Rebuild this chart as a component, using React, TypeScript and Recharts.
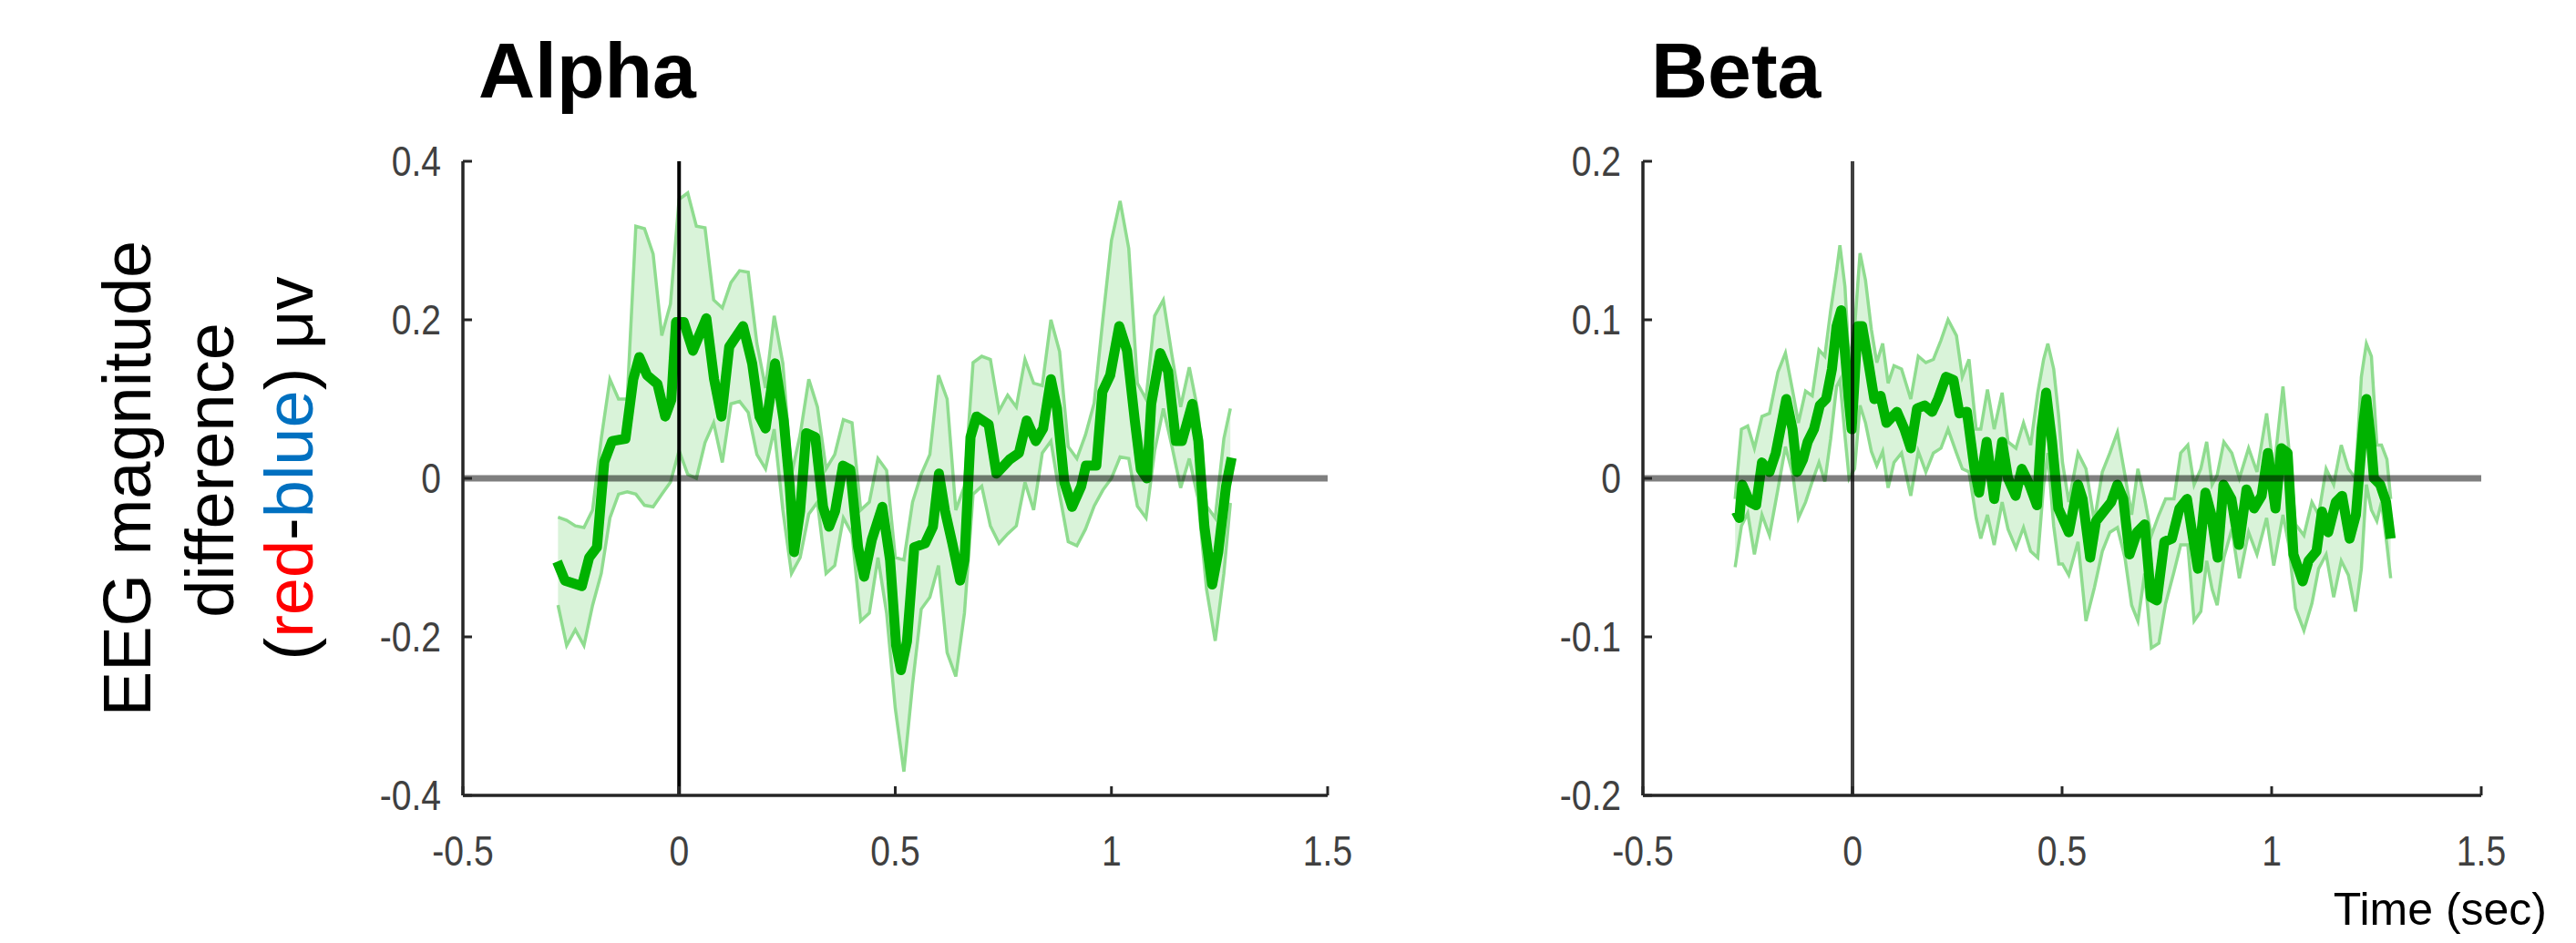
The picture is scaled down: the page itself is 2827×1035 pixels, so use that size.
import React from 'react';
import { ComposedChart, Area, Line, XAxis, YAxis, ReferenceLine } from 'recharts';

// tick values
const X_TICKS = [-0.5, 0, 0.5, 1, 1.5];
const ALPHA_Y_TICKS = [-0.4, -0.2, 0, 0.2, 0.4];
const BETA_Y_TICKS = [-0.2, -0.1, 0, 0.1, 0.2];

// Alpha: mean difference [time, value]
const alphaMean: [number, number][] = [
  [-0.282, -0.105], [-0.264, -0.129], [-0.225, -0.136], [-0.208, -0.1], [-0.19, -0.087],
  [-0.173, 0.021], [-0.155, 0.047], [-0.124, 0.05], [-0.106, 0.125], [-0.092, 0.153],
  [-0.074, 0.13], [-0.05, 0.119], [-0.032, 0.078], [-0.018, 0.099], [-0.007, 0.197],
  [0.011, 0.197], [0.032, 0.161], [0.063, 0.202], [0.081, 0.125], [0.098, 0.078],
  [0.116, 0.166], [0.148, 0.192], [0.169, 0.145], [0.186, 0.078], [0.2, 0.063],
  [0.222, 0.145], [0.242, 0.073], [0.256, -0.01], [0.266, -0.093], [0.28, -0.041],
  [0.294, 0.057], [0.315, 0.052], [0.333, -0.036], [0.347, -0.061], [0.361, -0.041],
  [0.379, 0.016], [0.396, 0.011], [0.414, -0.087], [0.428, -0.124], [0.446, -0.077],
  [0.47, -0.036], [0.488, -0.103], [0.502, -0.211], [0.513, -0.242], [0.527, -0.206],
  [0.544, -0.087], [0.569, -0.082], [0.587, -0.061], [0.601, 0.006], [0.615, -0.041],
  [0.632, -0.082], [0.65, -0.129], [0.66, -0.103], [0.674, 0.052], [0.688, 0.078],
  [0.716, 0.068], [0.734, 0.006], [0.765, 0.024], [0.786, 0.032], [0.804, 0.073],
  [0.825, 0.047], [0.842, 0.063], [0.86, 0.125], [0.874, 0.088], [0.891, -0.005],
  [0.909, -0.036], [0.93, -0.01], [0.941, 0.016], [0.965, 0.016], [0.979, 0.109],
  [0.997, 0.13], [1.018, 0.192], [1.036, 0.161], [1.054, 0.073], [1.068, 0.011],
  [1.082, 0.0], [1.092, 0.094], [1.113, 0.158], [1.131, 0.135], [1.149, 0.047],
  [1.163, 0.047], [1.187, 0.094], [1.201, 0.047], [1.215, -0.061], [1.233, -0.134],
  [1.247, -0.093], [1.265, -0.01], [1.278, 0.026],
];

// Alpha: error band [time, low, high]
const alphaBand: [number, number, number][] = [
  [-0.28, -0.16, -0.049], [-0.26, -0.211, -0.053], [-0.24, -0.191, -0.06], [-0.22, -0.211, -0.062],
  [-0.2, -0.16, -0.04], [-0.18, -0.12, 0.05], [-0.16, -0.05, 0.125], [-0.14, -0.02, 0.1],
  [-0.12, -0.017, 0.1], [-0.1, -0.02, 0.318], [-0.08, -0.034, 0.315], [-0.06, -0.036, 0.283],
  [-0.04, -0.02, 0.18], [-0.02, -0.005, 0.22], [0.0, 0.035, 0.352], [0.02, 0.005, 0.36],
  [0.04, 0.0, 0.318], [0.06, 0.045, 0.316], [0.08, 0.07, 0.225], [0.1, 0.02, 0.215],
  [0.12, 0.094, 0.247], [0.14, 0.097, 0.262], [0.16, 0.083, 0.26], [0.18, 0.03, 0.17],
  [0.2, 0.012, 0.114], [0.22, 0.062, 0.205], [0.24, -0.04, 0.145], [0.26, -0.12, 0.005],
  [0.28, -0.1, 0.055], [0.3, -0.045, 0.125], [0.32, -0.03, 0.09], [0.34, -0.12, 0.012],
  [0.36, -0.11, 0.03], [0.38, -0.05, 0.074], [0.4, -0.07, 0.07], [0.42, -0.18, -0.04],
  [0.44, -0.17, -0.03], [0.46, -0.1, 0.025], [0.48, -0.17, 0.01], [0.5, -0.29, -0.1],
  [0.52, -0.37, -0.103], [0.54, -0.26, -0.03], [0.56, -0.165, 0.005], [0.58, -0.15, 0.03],
  [0.6, -0.11, 0.13], [0.62, -0.22, 0.1], [0.64, -0.25, -0.04], [0.66, -0.17, -0.01],
  [0.68, -0.02, 0.146], [0.7, -0.01, 0.154], [0.72, -0.06, 0.15], [0.74, -0.082, 0.085],
  [0.76, -0.07, 0.105], [0.78, -0.06, 0.09], [0.8, -0.005, 0.15], [0.82, -0.04, 0.12],
  [0.84, 0.032, 0.117], [0.86, 0.047, 0.2], [0.88, -0.02, 0.16], [0.9, -0.08, 0.04],
  [0.92, -0.085, 0.025], [0.94, -0.064, 0.055], [0.96, -0.035, 0.095], [0.98, -0.015, 0.2],
  [1.0, 0.0, 0.3], [1.02, 0.027, 0.35], [1.04, 0.025, 0.29], [1.06, -0.035, 0.12],
  [1.08, -0.05, 0.1], [1.1, 0.035, 0.205], [1.12, 0.088, 0.225], [1.14, 0.04, 0.155],
  [1.16, -0.012, 0.09], [1.18, 0.025, 0.14], [1.2, -0.025, 0.085], [1.22, -0.14, -0.035],
  [1.24, -0.205, -0.05], [1.26, -0.12, 0.05], [1.275, -0.031, 0.088],
];

// Beta: mean difference [time, value]
const betaMean: [number, number][] = [
  [-0.278, -0.021], [-0.27, -0.025], [-0.263, -0.004], [-0.245, -0.015], [-0.23, -0.017],
  [-0.216, 0.01], [-0.198, 0.004], [-0.183, 0.016], [-0.169, 0.035], [-0.158, 0.05],
  [-0.143, 0.031], [-0.132, 0.004], [-0.118, 0.012], [-0.107, 0.023], [-0.092, 0.031],
  [-0.078, 0.046], [-0.063, 0.05], [-0.049, 0.069], [-0.038, 0.096], [-0.027, 0.106],
  [-0.016, 0.073], [-0.009, 0.05], [-0.002, 0.031], [0.005, 0.062], [0.012, 0.096],
  [0.023, 0.096], [0.038, 0.073], [0.052, 0.05], [0.067, 0.052], [0.081, 0.035],
  [0.106, 0.042], [0.124, 0.031], [0.139, 0.019], [0.154, 0.044], [0.172, 0.046],
  [0.19, 0.042], [0.204, 0.05], [0.223, 0.064], [0.241, 0.062], [0.255, 0.041],
  [0.273, 0.042], [0.291, 0.006], [0.302, -0.009], [0.32, 0.023], [0.338, -0.013],
  [0.357, 0.023], [0.371, 0.0], [0.389, -0.011], [0.404, 0.006], [0.422, -0.004],
  [0.44, -0.017], [0.451, 0.031], [0.462, 0.054], [0.476, 0.023], [0.491, -0.019],
  [0.516, -0.034], [0.538, -0.004], [0.549, -0.013], [0.567, -0.05], [0.581, -0.027],
  [0.599, -0.021], [0.617, -0.015], [0.632, -0.004], [0.646, -0.013], [0.661, -0.048],
  [0.679, -0.034], [0.697, -0.029], [0.712, -0.075], [0.726, -0.077], [0.744, -0.04],
  [0.762, -0.038], [0.78, -0.019], [0.798, -0.013], [0.809, -0.032], [0.824, -0.057],
  [0.842, -0.009], [0.856, -0.023], [0.871, -0.05], [0.885, -0.004], [0.904, -0.013],
  [0.922, -0.042], [0.94, -0.007], [0.958, -0.019], [0.976, -0.011], [0.991, 0.016],
  [1.009, -0.019], [1.023, 0.019], [1.038, 0.016], [1.052, -0.048], [1.074, -0.065],
  [1.088, -0.052], [1.107, -0.046], [1.12, -0.021], [1.135, -0.034], [1.153, -0.015],
  [1.168, -0.011], [1.186, -0.038], [1.201, -0.023], [1.219, 0.035], [1.226, 0.05],
  [1.237, 0.023], [1.244, 0.0], [1.259, -0.004], [1.273, -0.015], [1.284, -0.038],
];

// Beta: error band [time, low, high]
const betaBand: [number, number, number][] = [
  [-0.28, -0.056, -0.013], [-0.265, -0.03, 0.031], [-0.25, -0.022, 0.033], [-0.234, -0.048, 0.019],
  [-0.216, -0.023, 0.039], [-0.198, -0.036, 0.041], [-0.178, -0.007, 0.067], [-0.16, 0.02, 0.079],
  [-0.142, 0.002, 0.054], [-0.129, -0.025, 0.035], [-0.112, -0.015, 0.055], [-0.096, -0.002, 0.052],
  [-0.08, 0.01, 0.081], [-0.066, -0.002, 0.077], [-0.052, 0.025, 0.106], [-0.038, 0.058, 0.131],
  [-0.03, 0.062, 0.147], [-0.018, 0.027, 0.121], [-0.008, 0.0, 0.073], [0.005, 0.006, 0.095],
  [0.018, 0.046, 0.142], [0.031, 0.035, 0.125], [0.045, 0.017, 0.094], [0.058, 0.008, 0.073],
  [0.072, 0.017, 0.085], [0.085, -0.006, 0.06], [0.099, 0.01, 0.071], [0.117, 0.016, 0.069],
  [0.139, -0.011, 0.05], [0.157, 0.017, 0.077], [0.175, 0.004, 0.073], [0.193, 0.016, 0.075],
  [0.211, 0.019, 0.087], [0.228, 0.031, 0.1], [0.248, 0.016, 0.09], [0.262, 0.006, 0.064],
  [0.278, 0.004, 0.075], [0.295, -0.025, 0.031], [0.306, -0.038, 0.031], [0.322, -0.023, 0.056],
  [0.338, -0.042, 0.031], [0.357, -0.015, 0.054], [0.371, -0.032, 0.023], [0.39, -0.044, 0.019],
  [0.408, -0.031, 0.035], [0.425, -0.046, 0.021], [0.442, -0.05, 0.054], [0.456, -0.004, 0.075],
  [0.466, 0.016, 0.085], [0.48, -0.03, 0.069], [0.492, -0.054, 0.039], [0.501, -0.054, 0.01],
  [0.516, -0.061, -0.015], [0.538, -0.04, 0.016], [0.557, -0.09, 0.006], [0.577, -0.069, -0.027],
  [0.596, -0.046, 0.004], [0.614, -0.034, 0.016], [0.632, -0.031, 0.029], [0.65, -0.05, 0.002],
  [0.666, -0.08, -0.023], [0.681, -0.09, 0.006], [0.697, -0.06, -0.013], [0.713, -0.107, -0.036],
  [0.731, -0.104, -0.023], [0.747, -0.079, -0.013], [0.767, -0.059, -0.013], [0.783, -0.042, 0.016],
  [0.8, -0.042, 0.021], [0.815, -0.09, -0.004], [0.831, -0.084, 0.006], [0.845, -0.052, 0.023],
  [0.858, -0.07, -0.004], [0.87, -0.08, 0.002], [0.886, -0.05, 0.023], [0.905, -0.032, 0.016],
  [0.923, -0.063, 0.0], [0.945, -0.034, 0.019], [0.965, -0.048, 0.004], [0.988, -0.025, 0.041],
  [1.005, -0.055, 0.004], [1.027, -0.023, 0.058], [1.041, -0.042, 0.019], [1.057, -0.082, -0.029],
  [1.077, -0.096, -0.036], [1.096, -0.079, -0.015], [1.112, -0.057, -0.023], [1.13, -0.048, 0.006],
  [1.148, -0.075, -0.004], [1.166, -0.052, 0.021], [1.183, -0.061, 0.006], [1.2, -0.084, 0.0],
  [1.214, -0.057, 0.064], [1.226, -0.004, 0.085], [1.238, -0.02, 0.077], [1.251, -0.027, 0.021],
  [1.262, -0.015, 0.021], [1.275, -0.042, 0.012], [1.284, -0.063, -0.013],
];

const GREEN = '#00b200';
const BAND_FILL = '#d9f3d9';
const BAND_EDGE = '#8fdc8f';
const AXIS = '#262626';
const TICK_TEXT = '#404040';
const FONT = '"Liberation Sans", Arial, Helvetica, sans-serif';

function XTick(props: any) {
  const { x, y, payload } = props;
  return (
    <g>
      <line x1={x} y1={y} x2={x} y2={y - 10} stroke={AXIS} strokeWidth={3} />
      <text
        transform={`translate(${x},${y + 77}) scale(0.85,1)`}
        textAnchor="middle"
        fontSize={46}
        fontFamily={FONT}
        fill={TICK_TEXT}
      >
        {String(payload.value)}
      </text>
    </g>
  );
}

function YTick(props: any) {
  const { x, y, payload } = props;
  return (
    <g>
      <line x1={x} y1={y} x2={x + 10} y2={y} stroke={AXIS} strokeWidth={3} />
      <text
        transform={`translate(${x - 24},${y + 16}) scale(0.85,1)`}
        textAnchor="end"
        fontSize={46}
        fontFamily={FONT}
        fill={TICK_TEXT}
      >
        {String(payload.value)}
      </text>
    </g>
  );
}

interface PanelProps {
  left: number;
  width: number;
  marginLeft: number;
  marginRight: number;
  mean: [number, number][];
  band: [number, number, number][];
  yTicks: number[];
  vLineOpacity: number;
}

function Panel({ left, width, marginLeft, marginRight, mean, band, yTicks, vLineOpacity }: PanelProps) {
  const meanData = mean.map(([t, v]) => ({ t, v }));
  const bandData = band.map(([t, lo, hi]) => ({ t, band: [lo, hi] }));

  return (
    <div style={{ position: 'absolute', left, top: 0 }}>
      <ComposedChart
        width={width}
        height={1035}
        margin={{ top: 177, right: marginRight, bottom: 102, left: marginLeft }}
      >
        <XAxis
          type="number"
          dataKey="t"
          domain={[-0.5, 1.5]}
          ticks={X_TICKS}
          interval={0}
          allowDataOverflow
          height={60}
          tickSize={0}
          tickMargin={0}
          tickLine={false}
          axisLine={{ stroke: AXIS, strokeWidth: 3.5 }}
          tick={<XTick />}
        />
        <YAxis
          type="number"
          domain={[yTicks[0], yTicks[yTicks.length - 1]]}
          ticks={yTicks}
          interval={0}
          allowDataOverflow
          width={80}
          tickSize={0}
          tickMargin={0}
          tickLine={false}
          axisLine={{ stroke: AXIS, strokeWidth: 3.5 }}
          tick={<YTick />}
        />
        <Area
          data={bandData}
          dataKey="band"
          type="linear"
          fill={BAND_FILL}
          fillOpacity={1}
          stroke={BAND_EDGE}
          strokeWidth={3.5}
          isAnimationActive={false}
        />
        <Line
          data={meanData}
          dataKey="v"
          type="linear"
          stroke={GREEN}
          strokeWidth={11}
          strokeLinejoin="round"
          dot={false}
          activeDot={false}
          isAnimationActive={false}
        />
        <ReferenceLine y={0} stroke="#000" strokeOpacity={0.5} strokeWidth={7} />
        <ReferenceLine x={0} stroke="#000" strokeOpacity={vLineOpacity} strokeWidth={4} />
      </ComposedChart>
    </div>
  );
}

export default function App() {
  return (
    <div style={{ position: 'relative', width: 2827, height: 1035, background: '#fff', overflow: 'hidden' }}>
      <style>{'body { margin: 0; }'}</style>

      <Panel
        left={0}
        width={1500}
        marginLeft={428}
        marginRight={43}
        mean={alphaMean}
        band={alphaBand}
        yTicks={ALPHA_Y_TICKS}
        vLineOpacity={1}
      />
      <Panel
        left={1300}
        width={1527}
        marginLeft={423}
        marginRight={104}
        mean={betaMean}
        band={betaBand}
        yTicks={BETA_Y_TICKS}
        vLineOpacity={0.75}
      />

      {/* titles and axis labels */}
      <svg
        width={2827}
        height={1035}
        style={{ position: 'absolute', left: 0, top: 0, pointerEvents: 'none' }}
        fontFamily={FONT}
      >
        <text x={525} y={107} fontSize={86} fontWeight="bold" fill="#000">Alpha</text>
        <text x={1812} y={107} fontSize={86} fontWeight="bold" fill="#000">Beta</text>

        <text transform="translate(165,525) rotate(-90)" textAnchor="middle" fontSize={74} fill="#000">
          EEG magnitude
        </text>
        <text transform="translate(256,516) rotate(-90)" textAnchor="middle" fontSize={74} fill="#000">
          difference
        </text>
        <text transform="translate(343,514) rotate(-90)" textAnchor="middle" fontSize={74} fill="#000">
          (<tspan fill="#ff0000">red</tspan>-<tspan fill="#0070c0">blue</tspan>) μv
        </text>

        <text x={2795} y={1015} textAnchor="end" fontSize={50} fill="#000">Time (sec)</text>
      </svg>
    </div>
  );
}
